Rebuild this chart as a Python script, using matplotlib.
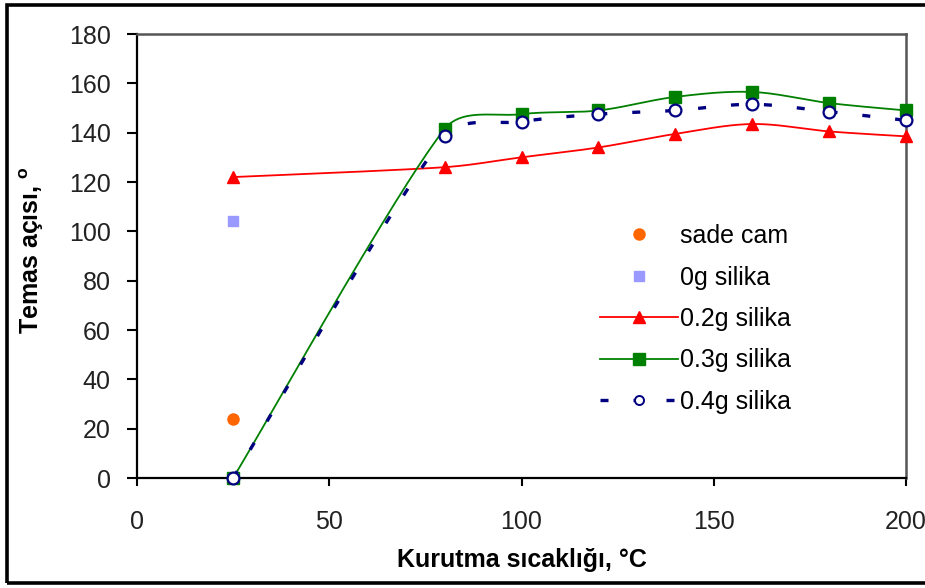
import numpy as np
import matplotlib
matplotlib.use("Agg")
import matplotlib.pyplot as plt
from matplotlib.patches import Rectangle

plt.rcParams['font.family'] = ['Liberation Sans', 'DejaVu Sans']
plt.rcParams['mathtext.fontset'] = 'custom'
plt.rcParams['mathtext.bf'] = 'Liberation Sans:bold'
plt.rcParams['mathtext.rm'] = 'Liberation Sans'

# =============================================================================
# Veriler
# =============================================================================

x_cam = [25]
y_cam = [24]

x_0g = [25]
y_0g = [104]

x_seri = [25, 80, 100, 120, 140, 160, 180, 200]
y_02g = [122, 126, 130, 134, 139.5, 143.5, 140.5, 138.5]
y_03g = [0, 141.5, 147.5, 149, 154.5, 156.5, 152, 149]
y_04g = [0, 138.5, 144.5, 147.5, 149, 151.5, 148.5, 145]

XMAX, YMAX = 200, 180
W, H = 925, 588
AX_L, AX_R, AX_T, AX_B = 137, 906, 34, 478
FS = 18


# =============================================================================
# Excel benzeri yumusak egri (Bezier)
# =============================================================================

def excel_smooth(xs, ys, n=40):
    """Excel'in 'smoothed line' cizimine benzer Bezier egrisi (piksel uzayinda)."""
    sx = (AX_R - AX_L) / XMAX
    sy = (AX_B - AX_T) / YMAX
    P = np.column_stack([np.asarray(xs) * sx, np.asarray(ys) * sy])
    m = len(P)
    out = [P[0]]
    for i in range(m - 1):
        p0 = P[i - 1] if i > 0 else P[i]
        p1 = P[i]
        p2 = P[i + 1]
        p3 = P[i + 2] if i + 2 < m else P[i + 1]
        seg = np.linalg.norm(p2 - p1)
        t1 = (p2 - p0) / 6.0
        t2 = (p3 - p1) / 6.0
        for t in (t1, t2):
            L = np.linalg.norm(t)
            if L > seg * 0.35 and L > 0:
                t *= (seg * 0.35) / L
        c1 = p1 + t1
        c2 = p2 - t2
        tt = np.linspace(0, 1, n)[1:, None]
        pts = ((1 - tt) ** 3 * p1 + 3 * (1 - tt) ** 2 * tt * c1
               + 3 * (1 - tt) * tt ** 2 * c2 + tt ** 3 * p2)
        out.extend(pts)
    out = np.array(out)
    return out[:, 0] / sx, out[:, 1] / sy


# =============================================================================
# Grafik
# =============================================================================

fig = plt.figure(figsize=(W / 100, H / 100), dpi=100)
ax = fig.add_axes([AX_L / W, 1 - AX_B / H, (AX_R - AX_L) / W, (AX_B - AX_T) / H])

red = '#FF0000'
green = '#008000'
navy = '#000080'
dash = (2.4, 7.5)

ax.plot(x_cam, y_cam, 'o', color='#FF6600', ms=8, mec='#FF6600',
        clip_on=False, zorder=5)
ax.plot(x_0g, y_0g, 's', color='#9999FF', ms=6.5, mec='#9999FF',
        clip_on=False, zorder=5)

xs, ys = excel_smooth(x_seri, y_02g)
ax.plot(xs, ys, '-', color=red, lw=1.3, zorder=3)
ax.plot(x_seri, y_02g, '^', color=red, ms=8, mec=red, clip_on=False, zorder=4)

xs, ys = excel_smooth(x_seri, y_03g)
ax.plot(xs, ys, '-', color=green, lw=1.3, zorder=3)
ax.plot(x_seri, y_03g, 's', color=green, ms=8.5, mec=green, clip_on=False, zorder=4)

xs, ys = excel_smooth(x_seri, y_04g)
ax.plot(xs, ys, '--', color=navy, lw=2.4, dashes=dash, zorder=4)
ax.plot(x_seri, y_04g, 'o', color=navy, mfc='white', ms=8.5, mew=1.6,
        clip_on=False, zorder=6)

# legend icin vekil cizgiler
h_cam, = ax.plot([], [], 'o', color='#FF6600', ms=8)
h_0g, = ax.plot([], [], 's', color='#9999FF', ms=6.5)
h_02, = ax.plot([], [], '-^', color=red, lw=1.3, ms=8)
h_03, = ax.plot([], [], '-s', color=green, lw=1.3, ms=8.5)
h_04, = ax.plot([], [], '--o', color=navy, mfc='white', lw=2.4, ms=6.5, mew=1.4,
                dashes=dash)
ax.legend([h_cam, h_0g, h_02, h_03, h_04],
          ['sade cam', '0g silika', '0.2g silika', '0.3g silika', '0.4g silika'],
          loc='upper left', bbox_to_anchor=(600 / W, 1 - 224 / H),
          bbox_transform=fig.transFigure, frameon=False, fontsize=FS,
          numpoints=1, handlelength=3.1, handletextpad=0.12, labelspacing=0.7,
          borderpad=0, borderaxespad=0)

ax.set_xlim(0, XMAX)
ax.set_ylim(0, YMAX)
ax.set_xticks([0, 50, 100, 150, 200])
ax.set_yticks(np.arange(0, 181, 20))
ax.tick_params(axis='x', direction='out', length=6, width=1.5, pad=17,
               labelsize=FS, colors='black')
ax.tick_params(axis='y', direction='out', length=7, width=1.5, pad=12,
               labelsize=FS, colors='black')
for tl in ax.get_xticklabels() + ax.get_yticklabels():
    tl.set_color('#222222')

for side in ['left', 'bottom']:
    ax.spines[side].set_linewidth(1.6)
    ax.spines[side].set_color('black')
for side in ['top', 'right']:
    ax.spines[side].set_linewidth(1.8)
    ax.spines[side].set_color('#555555')

ax.set_xlabel('Kurutma sıcaklığı, °C', fontsize=FS, fontweight='bold')
ax.xaxis.set_label_coords(0.5, -(560 - AX_B) / (AX_B - AX_T))
ax.xaxis.label.set_va('center')
ax.set_ylabel(r'Temas açısı, $\mathbf{^o}$', fontsize=FS, fontweight='bold')
ax.yaxis.set_label_coords(-(AX_L - 32) / (AX_R - AX_L), (AX_B - 250) / (AX_B - AX_T))
ax.yaxis.label.set_va('center')

# dis cerceve
fig.add_artist(Rectangle((7 / W, 1 - 583 / H), 1.0, (583 - 5) / H,
                         transform=fig.transFigure, fill=False, lw=2.6,
                         edgecolor='black', clip_on=False))

fig.savefig('out.png', dpi=100)
